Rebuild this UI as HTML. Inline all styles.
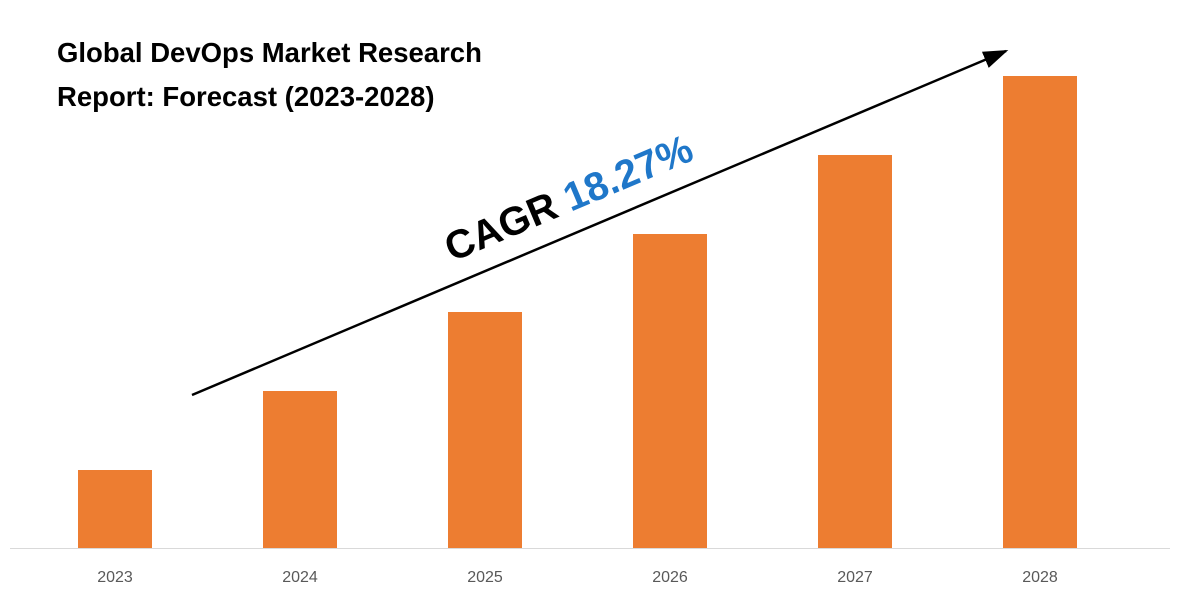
<!DOCTYPE html>
<html><head><meta charset="utf-8"><style>
html,body{margin:0;padding:0;background:#fff;}
svg{display:block;font-family:"Liberation Sans",sans-serif;}
</style></head><body>
<svg width="1200" height="600" viewBox="0 0 1200 600">
<defs><marker id="ah" markerWidth="10" markerHeight="7" refX="9" refY="3.5" orient="auto"><path d="M0,0 L10,3.5 L0,7 z" fill="#000"/></marker></defs>
<text x="57" y="62" font-size="27.5" font-weight="bold" fill="#000">Global DevOps Market Research</text>
<text x="57" y="106" font-size="27.5" font-weight="bold" fill="#000">Report: Forecast (2023-2028)</text>
<g id="bars"></g>
<line x1="10" y1="548.5" x2="1170" y2="548.5" stroke="#d9d9d9" stroke-width="1"/>
<g id="labels"></g>
<line x1="192" y1="395" x2="1006" y2="51" stroke="#000" stroke-width="2.5" marker-end="url(#ah)"/>
<text transform="translate(452,262) rotate(-22.9)" font-size="40" font-weight="bold"><tspan fill="#000">CAGR </tspan><tspan fill="#1f77c9">18.27%</tspan></text>
</svg>
<script>
const categories=["2023","2024","2025","2026","2027","2028"];
const values=[78,157,236,314,393,472];
const yMax=500, y0=548, plotH=500, xStart=22.5, band=185, barW=74;
const ns="http://www.w3.org/2000/svg";
function yScale(v){return y0-v/yMax*plotH;}
function xCenter(i){return xStart+band*i+band/2;}
const gb=document.getElementById('bars'), gl=document.getElementById('labels');
categories.forEach((c,i)=>{
 const r=document.createElementNS(ns,'rect');
 r.setAttribute('x',xCenter(i)-barW/2);
 r.setAttribute('y',yScale(values[i]));
 r.setAttribute('width',barW);
 r.setAttribute('height',y0-yScale(values[i]));
 r.setAttribute('fill','#ed7d31');
 
 
 gb.appendChild(r);
 const t=document.createElementNS(ns,'text');
 t.setAttribute('x',xCenter(i));
 t.setAttribute('y',582);
 t.setAttribute('text-anchor','middle');
 t.setAttribute('font-size','16');
 t.setAttribute('fill','#595959');
 
 
 t.textContent=c;
 gl.appendChild(t);
});
</script>
</body></html>
